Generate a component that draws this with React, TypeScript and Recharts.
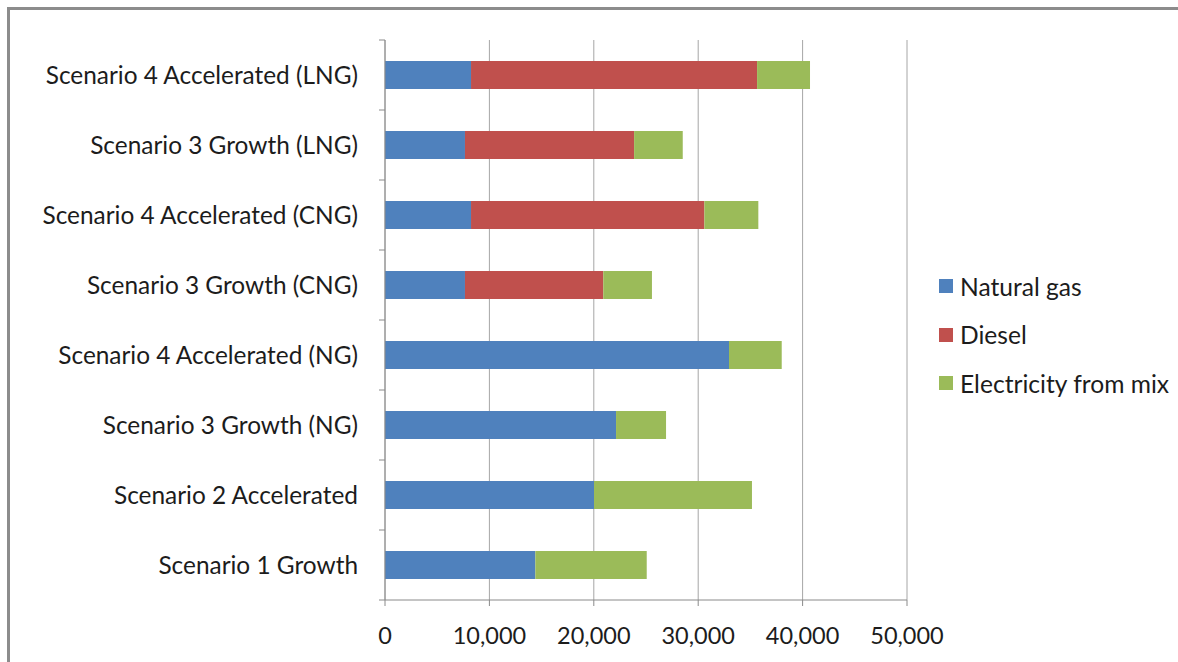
import { BarChart, Bar, XAxis, YAxis, CartesianGrid, Legend } from 'recharts';

const scenarios = [
  'Scenario 4 Accelerated (LNG)',
  'Scenario 3 Growth (LNG)',
  'Scenario 4 Accelerated (CNG)',
  'Scenario 3 Growth (CNG)',
  'Scenario 4 Accelerated (NG)',
  'Scenario 3 Growth (NG)',
  'Scenario 2 Accelerated',
  'Scenario 1 Growth',
];
const naturalGas = [8240, 7660, 8240, 7660, 32950, 22130, 20020, 14400];
const diesel = [27400, 16200, 22350, 13250, 0, 0, 0, 0];
const electricity = [5070, 4660, 5170, 4660, 5050, 4790, 15130, 10670];
const xTicks = [0, 10000, 20000, 30000, 40000, 50000];

const seriesInfo = [
  { key: 'naturalGas', name: 'Natural gas', color: '#4F81BD' },
  { key: 'diesel', name: 'Diesel', color: '#C0504D' },
  { key: 'electricity', name: 'Electricity from mix', color: '#9BBB59' },
];

const data = scenarios.map((name, i) => ({
  name,
  naturalGas: naturalGas[i],
  diesel: diesel[i],
  electricity: electricity[i],
}));

const FONT = 'Lato, "Noto Sans", sans-serif';
const TEXT = '#1c1c1c';
const AXIS = '#8a8a8a';
const TICK_SIZE = 6;
const TICK_MARGIN = 21;

// category label plus boundary tick marks (Excel style)
function CategoryTick(props: any) {
  const { x, y, payload, index } = props;
  const axisX = x + TICK_SIZE + TICK_MARGIN;
  const half = payload.offset || 35;
  return (
    <g>
      <line x1={axisX - TICK_SIZE} x2={axisX} y1={y - half} y2={y - half} stroke={AXIS} />
      {index === scenarios.length - 1 && (
        <line x1={axisX - TICK_SIZE} x2={axisX} y1={y + half} y2={y + half} stroke={AXIS} />
      )}
      <text x={x} y={y} dy="0.35em" textAnchor="end" fill={TEXT} fontSize={24.4} fontFamily={FONT}>
        {payload.value}
      </text>
    </g>
  );
}

function LegendBox() {
  return (
    <div style={{ fontFamily: FONT, fontSize: 24.6, color: TEXT }}>
      {seriesInfo.map((s) => (
        <div key={s.key} style={{ display: 'flex', alignItems: 'center', height: 48.5 }}>
          <span style={{ width: 14, height: 14, background: s.color, marginRight: 7 }} />
          <span>{s.name}</span>
        </div>
      ))}
    </div>
  );
}

export default function App() {
  return (
    <div
      style={{
        position: 'absolute',
        left: 7,
        top: 7,
        width: 1200,
        height: 700,
        border: '3px solid #8c8c8c',
        background: '#fff',
      }}
    >
      <BarChart
        width={1168}
        height={652}
        data={data}
        layout="vertical"
        barCategoryGap="30%"
        margin={{ top: 30, right: 271, bottom: 22, left: 0 }}
      >
        <CartesianGrid horizontal={false} stroke="#a6a6a6" />
        <XAxis
          type="number"
          domain={[0, 50000]}
          ticks={xTicks}
          height={40}
          stroke={AXIS}
          tickSize={TICK_SIZE}
          tickMargin={TICK_MARGIN}
          tickFormatter={(v: number) => v.toLocaleString('en-US')}
          tick={{ fill: TEXT, fontSize: 23.5, fontFamily: FONT }}
        />
        <YAxis
          type="category"
          dataKey="name"
          width={375}
          stroke={AXIS}
          tickLine={false}
          tickSize={TICK_SIZE}
          tickMargin={TICK_MARGIN}
          interval={0}
          tick={<CategoryTick />}
        />
        <Legend
          layout="vertical"
          align="center"
          verticalAlign="middle"
          content={<LegendBox />}
          wrapperStyle={{ left: 929, top: 252, width: 240 }}
        />
        {seriesInfo.map((s) => (
          <Bar
            key={s.key}
            dataKey={s.key}
            name={s.name}
            stackId="total"
            fill={s.color}
            isAnimationActive={false}
          />
        ))}
      </BarChart>
    </div>
  );
}
